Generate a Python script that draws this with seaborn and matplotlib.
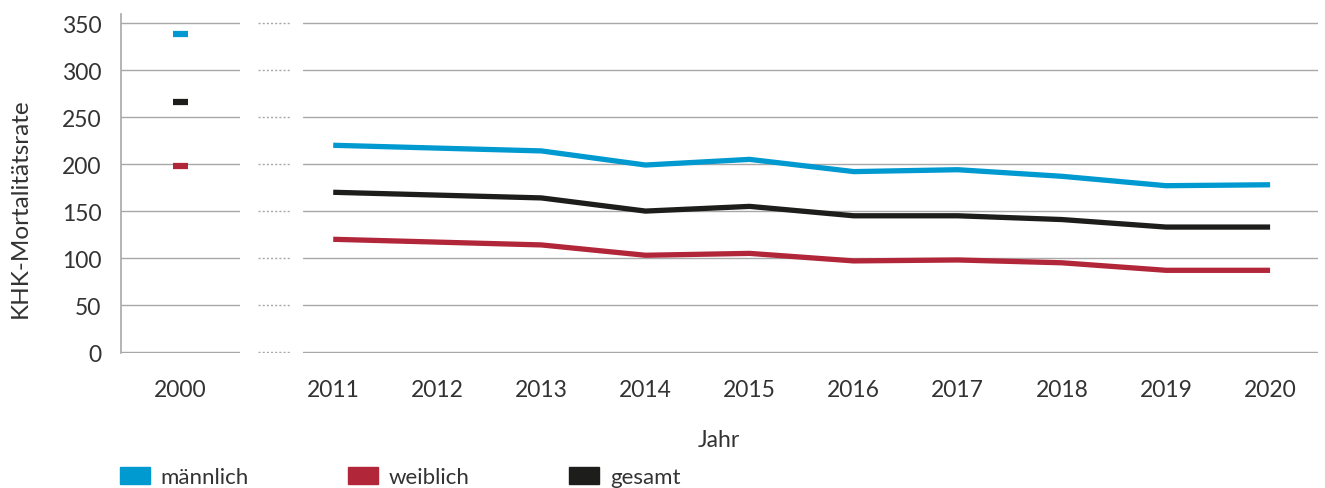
import matplotlib
matplotlib.use("Agg")
import pandas as pd
import matplotlib.pyplot as plt
import seaborn as sns
from matplotlib.patches import Patch

sns.set_theme(style="white")
plt.rcParams["font.family"] = ["Lato", "DejaVu Sans"]

# Daten
jahre = [2011, 2012, 2013, 2014, 2015, 2016, 2017, 2018, 2019, 2020]
maennlich = [220, 217, 214, 199, 205, 192, 194, 187, 177, 178]
weiblich = [120, 117, 114, 103, 105, 97, 98, 95, 87, 87]
gesamt = [170, 167, 164, 150, 155, 145, 145, 141, 133, 133]

jahr_2000 = ["2000"]
maennlich_2000 = [338]
weiblich_2000 = [198]
gesamt_2000 = [266]

gruppen = ["männlich", "weiblich", "gesamt"]
farben = {"männlich": "#0099d0", "weiblich": "#b22639", "gesamt": "#1d1d1b"}
yticks = [0, 50, 100, 150, 200, 250, 300, 350]

GRID = "#a8a8a8"
TXT = "#333333"
FS = 16.5


def main():
    df = pd.DataFrame({"Jahr": jahre, "männlich": maennlich,
                       "weiblich": weiblich, "gesamt": gesamt})
    df = df.melt(id_vars="Jahr", var_name="Gruppe", value_name="Rate")
    df["pos"] = df["Jahr"].map({j: i for i, j in enumerate(jahre)})

    df0 = pd.DataFrame({"Jahr": jahr_2000 * 3,
                        "Gruppe": gruppen,
                        "Rate": maennlich_2000 + weiblich_2000 + gesamt_2000})

    fig = plt.figure(figsize=(13.25, 4.89), dpi=100)
    bottom, height = 0.276, 0.694
    ax0 = fig.add_axes([0.0913, bottom, 0.0898, height])
    axg = fig.add_axes([0.1947, bottom, 0.0242, height])
    ax1 = fig.add_axes([0.2287, bottom, 0.766, height])

    for ax in (ax0, axg, ax1):
        ax.set_ylim(-1, 360)
        ax.set_yticks(yticks)
        for s in ax.spines.values():
            s.set_visible(False)
        ax.tick_params(length=0, labelsize=FS, colors=TXT)

    # 2000
    sns.scatterplot(data=df0, x="Jahr", y="Rate", hue="Gruppe", palette=farben,
                    marker="_", s=130, linewidth=4.5, legend=False, ax=ax0, zorder=3)
    ax0.set_xlim(-0.5, 0.5)
    ax0.grid(axis="y", color=GRID, lw=1)
    ax0.spines["left"].set_visible(True)
    ax0.spines["left"].set_color(GRID)
    ax0.spines["left"].set_linewidth(1.2)
    ax0.set_ylabel("KHK-Mortalitätsrate", fontsize=17.5, color=TXT)
    ax0.yaxis.set_label_coords(-0.76, 0.43)
    ax0.tick_params(axis="x", pad=19)
    ax0.tick_params(axis="y", pad=14)
    ax0.set_xlabel("")

    # Lücke
    axg.set_xticks([])
    axg.set_yticklabels([])
    axg.grid(axis="y", color=GRID, lw=1, ls=(0, (1.5, 1.5)))
    axg.set_xlabel("")
    axg.set_ylabel("")

    # 2011-2020
    sns.lineplot(data=df, x="pos", y="Rate", hue="Gruppe", palette=farben,
                 hue_order=gruppen, lw=3.8, legend=False, ax=ax1, zorder=3,
                 solid_capstyle="butt")
    ax1.set_xlim(-0.29, 9.46)
    ax1.set_xticks(range(len(jahre)))
    ax1.set_xticklabels([str(j) for j in jahre])
    ax1.set_yticklabels([])
    ax1.grid(axis="y", color=GRID, lw=1)
    ax1.tick_params(axis="x", pad=19)
    ax1.set_xlabel("Jahr", fontsize=FS, color=TXT)
    ax1.set_ylabel("")
    ax1.xaxis.set_label_coords(0.41, -0.225)

    handles = [Patch(color=farben[g], label=g) for g in gruppen]
    fig.legend(handles=handles, loc="center left", bbox_to_anchor=(0.082, 0.022),
               ncol=3, frameon=False, fontsize=16, handlelength=1.35,
               handleheight=0.75, handletextpad=0.5, columnspacing=4.45,
               borderpad=0, labelcolor=TXT)

    fig.savefig("out.png", dpi=100)


if __name__ == "__main__":
    main()
